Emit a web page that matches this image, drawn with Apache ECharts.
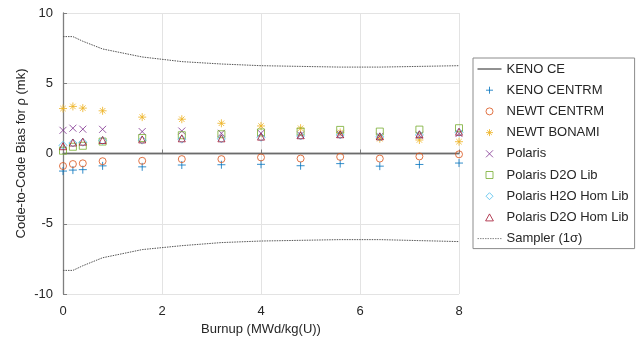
<!DOCTYPE html>
<html><head><meta charset="utf-8">
<script src="https://cdn.jsdelivr.net/npm/echarts@6/dist/echarts.min.js"></script>
<style>html,body{margin:0;padding:0;background:#fff}#c{width:639px;height:342px}</style>
</head><body><div id="c"></div>
<script>
const burnup = [0, 0.2, 0.4, 0.8, 1.6, 2.4, 3.2, 4, 4.8, 5.6, 6.4, 7.2, 8];
const xTicks = [0, 2, 4, 6, 8];
const yTicks = [-10, -5, 0, 5, 10];
const kenoCE = [0, 0, 0, 0, 0, 0, 0, 0, 0, 0, 0, 0, 0];
const kenoCentrm = [-1.25, -1.18, -1.15, -0.88, -0.95, -0.82, -0.8, -0.77, -0.87, -0.72, -0.9, -0.78, -0.68];
const newtCentrm = [-0.89, -0.75, -0.7, -0.55, -0.52, -0.4, -0.4, -0.28, -0.36, -0.24, -0.36, -0.21, -0.06];
const newtBonami = [3.2, 3.35, 3.23, 3.04, 2.59, 2.44, 2.15, 1.96, 1.8, 1.5, 1.05, 0.96, 0.84];
const polaris = [1.65, 1.8, 1.73, 1.72, 1.56, 1.6, 1.44, 1.44, 1.32, 1.37, 1.22, 1.3, 1.42];
const polarisD2OLib = [0.2, 0.48, 0.55, 0.85, 1.1, 1.3, 1.37, 1.5, 1.56, 1.68, 1.56, 1.7, 1.8];
const polarisH2OHomLib = [0.58, 0.75, 0.8, 0.92, 0.95, 1.02, 1.04, 1.15, 1.25, 1.32, 1.18, 1.32, 1.5];
const polarisD2OHomLib = [0.52, 0.78, 0.84, 0.96, 1.0, 1.08, 1.08, 1.2, 1.3, 1.37, 1.22, 1.37, 1.55];
const samplerUpper = [8.32, 8.32, 7.99, 7.44, 6.87, 6.54, 6.37, 6.25, 6.2, 6.15, 6.15, 6.2, 6.25];
const samplerLower = [-8.32, -8.32, -7.99, -7.42, -6.84, -6.56, -6.34, -6.23, -6.18, -6.13, -6.13, -6.2, -6.27];

const names = ['KENO CE', 'KENO CENTRM', 'NEWT CENTRM', 'NEWT BONAMI', 'Polaris',
  'Polaris D2O Lib', 'Polaris H2O Hom Lib', 'Polaris D2O Hom Lib', 'Sampler (1σ)'];

const FONT = 'Liberation Sans, Arial, sans-serif';
const TXT = '#262626';
const pts = arr => burnup.map((x, i) => [x, arr[i]]);

const PLUS = 'path://M0,5L10,5M5,0L5,10';
const CROSS = 'path://M0,0L10,10M0,10L10,0';
const STAR = 'path://M5,0L5,10M0,5L10,5M1.6,1.6L8.4,8.4M1.6,8.4L8.4,1.6';
const RECT = 'path://M0,0L10,0L10,10L0,10Z';
const DIAMOND = 'path://M5,0L10,5L5,10L0,5Z';
const TRIANGLE = 'path://M5,0L10,9L0,9Z';
const symbols = [null, PLUS, 'circle', STAR, CROSS, RECT, DIAMOND, TRIANGLE, null];

function scatter(name, data, symbol, size, color) {
  return {
    name, type: 'scatter', data: pts(data), symbol, symbolSize: size,
    itemStyle: { color: 'rgba(0,0,0,0)', borderColor: color, borderWidth: 1 },
    emphasis: { disabled: true }, z: 3
  };
}

const hidden = { color: 'rgba(0,0,0,0)', borderColor: 'rgba(0,0,0,0)', borderWidth: 0 };
const legendData = names.map((n, i) => {
  if (i === 0) return { name: n, itemStyle: hidden, lineStyle: { color: '#222', width: 1, type: 'solid' } };
  if (i === 8) return { name: n, itemStyle: hidden, lineStyle: { color: '#888', width: 1, type: [1.5, 1] } };
  return { name: n, icon: symbols[i] };
});

const chart = echarts.init(document.getElementById('c'), null, { renderer: 'canvas' });
chart.setOption({
  animation: false,
  backgroundColor: '#fff',
  textStyle: { fontFamily: FONT },
  grid: { left: 63, right: 180, top: 13, bottom: 48, containLabel: false },
  xAxis: {
    type: 'value', min: xTicks[0], max: xTicks[xTicks.length - 1], interval: xTicks[1] - xTicks[0],
    name: 'Burnup (MWd/kg(U))', nameLocation: 'middle', nameGap: 29, nameMoveOverlap: false,
    nameTextStyle: { fontSize: 13, color: TXT, fontFamily: FONT },
    axisLine: { lineStyle: { color: '#7f7f7f', width: 1.3 } },
    axisTick: { show: true, inside: true, length: 4, lineStyle: { color: '#7f7f7f' } },
    axisLabel: { fontSize: 13, color: TXT, margin: 11, fontFamily: FONT },
    splitLine: { show: true, lineStyle: { color: '#e3e3e3', width: 1 } }
  },
  yAxis: {
    type: 'value', min: yTicks[0], max: yTicks[yTicks.length - 1], interval: yTicks[1] - yTicks[0],
    name: 'Code-to-Code Bias for ρ (mk)', nameLocation: 'middle', nameGap: 35, nameMoveOverlap: false,
    nameTextStyle: { fontSize: 13, color: TXT, fontFamily: FONT },
    axisLine: { show: true, lineStyle: { color: '#7f7f7f', width: 1.3 } },
    axisTick: { show: true, inside: true, length: 4, lineStyle: { color: '#7f7f7f' } },
    axisLabel: { fontSize: 13, color: TXT, margin: 10, fontFamily: FONT },
    splitLine: { show: true, lineStyle: { color: '#e3e3e3', width: 1 } }
  },
  legend: {
    orient: 'vertical', left: 473, top: 58,
    data: legendData,
    itemWidth: 24, itemHeight: 7, itemGap: 7.2,
    padding: [4, 6, 3, 4],
    borderColor: '#8c8c8c', borderWidth: 1, backgroundColor: '#fff',
    itemStyle: { borderWidth: 1 },
    textStyle: { fontSize: 13, color: TXT, fontFamily: FONT, lineHeight: 14 },
    selectedMode: false
  },
  series: [
    { name: names[0], type: 'line', data: pts(kenoCE), symbol: 'none', showSymbol: false,
      lineStyle: { color: '#6b6b6b', width: 1.3 }, itemStyle: { color: '#222' }, z: 2 },
    scatter(names[1], kenoCentrm, PLUS, 8, '#0072BD'),
    scatter(names[2], newtCentrm, 'circle', 7, '#D95319'),
    scatter(names[3], newtBonami, STAR, 8, '#EDB120'),
    scatter(names[4], polaris, CROSS, 7, '#7E2F8E'),
    scatter(names[5], polarisD2OLib, RECT, 7, '#77AC30'),
    scatter(names[6], polarisH2OHomLib, DIAMOND, 8, '#4DBEEE'),
    scatter(names[7], polarisD2OHomLib, TRIANGLE, 7, '#A2142F'),
    { name: names[8], type: 'line', data: pts(samplerUpper), symbol: 'none', showSymbol: false,
      lineStyle: { color: '#555', width: 1, type: [1.5, 1] }, itemStyle: { color: '#555' }, z: 2 },
    { name: names[8], type: 'line', data: pts(samplerLower), symbol: 'none', showSymbol: false,
      lineStyle: { color: '#555', width: 1, type: [1.5, 1] }, itemStyle: { color: '#555' }, z: 2 }
  ]
});
</script></body></html>
